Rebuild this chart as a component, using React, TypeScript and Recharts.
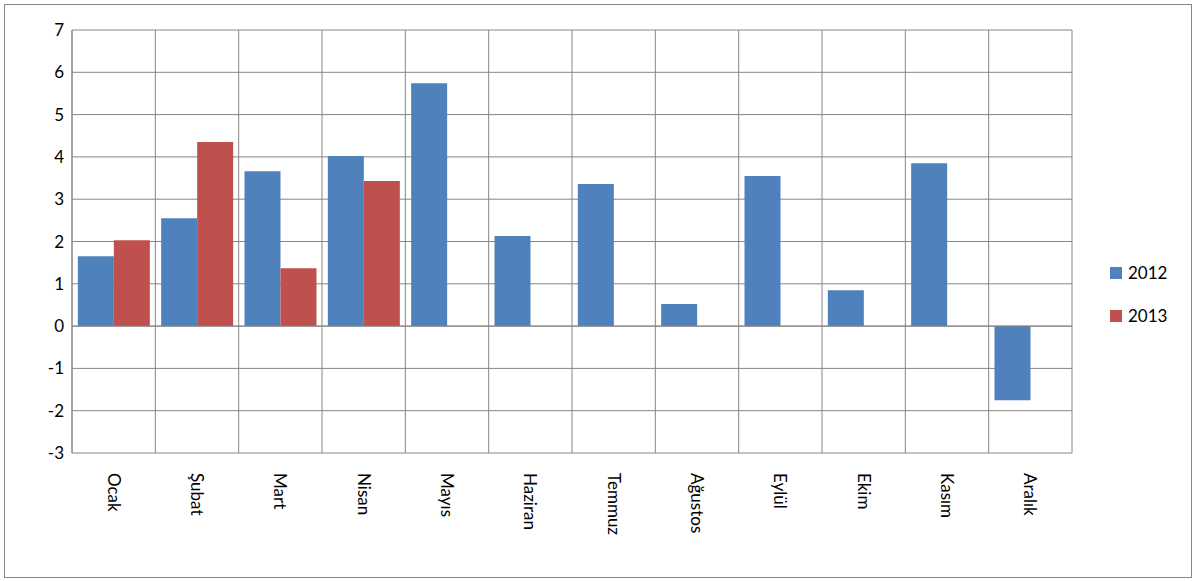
import { BarChart, Bar, XAxis, YAxis, CartesianGrid, ReferenceLine } from "recharts";

const months = ["Ocak", "Şubat", "Mart", "Nisan", "Mayıs", "Haziran", "Temmuz", "Ağustos", "Eylül", "Ekim", "Kasım", "Aralık"];
const y2012 = [1.65, 2.55, 3.66, 4.02, 5.74, 2.13, 3.36, 0.52, 3.55, 0.85, 3.85, -1.75];
const y2013: (number | null)[] = [2.03, 4.35, 1.37, 3.43, null, null, null, null, null, null, null, 0];
const yTicks = [-3, -2, -1, 0, 1, 2, 3, 4, 5, 6, 7];

const data = months.map((m, i) => ({ month: m, a: y2012[i], b: y2013[i] }));

const FONT = "Lato, 'Open Sans', sans-serif";

const MonthTick = (props: any) => {
  const { x, y, payload } = props;
  return (
    <text x={x} y={y} transform={`rotate(90, ${x}, ${y})`} dx={12} dy={6} textAnchor="start" fontSize={17} fill="#000" fontFamily={FONT}>
      {payload.value}
    </text>
  );
};

const LegendBox = () => (
  <div style={{ position: "absolute", left: 1110, top: 251, fontFamily: FONT, fontSize: 17 }}>
    {[["2012", "#4f81bd"], ["2013", "#c0504d"]].map(([t, c]) => (
      <div key={t} style={{ display: "flex", alignItems: "center", height: 43 }}>
        <span style={{ width: 12, height: 12, background: c, marginRight: 6 }} />
        {t}
      </div>
    ))}
  </div>
);

export default function App() {
  return (
    <div style={{ position: "fixed", left: 0, top: 0, width: 1196, height: 581, background: "#fff" }}>
      <div style={{ position: "absolute", left: 4, top: 4, width: 1186, height: 572, border: "1px solid #888" }} />
      <BarChart width={1196} height={581} data={data} margin={{ top: 30, right: 124, bottom: 0, left: 0 }} barCategoryGap="7%" barGap={0}>
        <CartesianGrid
          stroke="#868686"
          vertical
          verticalCoordinatesGenerator={({ offset }: any) =>
            months.map((_, i) => offset.left + (i * offset.width) / months.length).concat(offset.left + offset.width)
          }
        />
        <XAxis dataKey="month" height={128} tick={<MonthTick />} tickLine={false} axisLine={false} interval={0} />
        <YAxis width={72} domain={[-3, 7]} ticks={yTicks} tick={{ fontSize: 17, fill: "#000", fontFamily: FONT }} tickLine={false} axisLine={{ stroke: "#868686" }} />
        <ReferenceLine y={0} stroke="#868686" />
        <Bar dataKey="a" fill="#4f81bd" isAnimationActive={false} />
        <Bar dataKey="b" fill="#c0504d" isAnimationActive={false} />
      </BarChart>
      <LegendBox />
    </div>
  );
}
